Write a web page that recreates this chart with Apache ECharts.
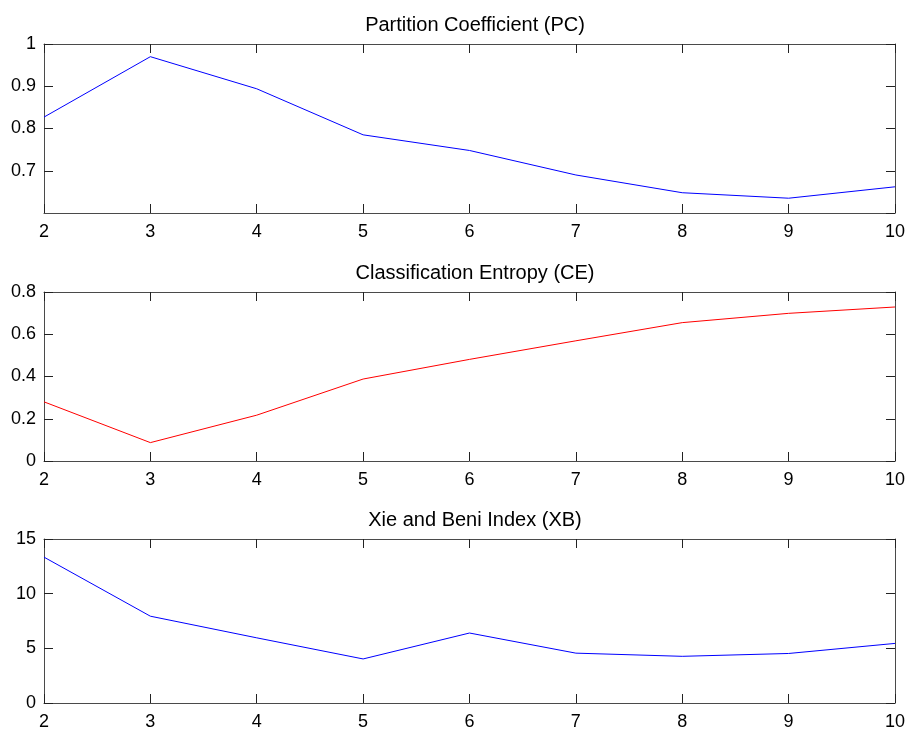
<!DOCTYPE html>
<html>
<head>
<meta charset="utf-8">
<script src="https://cdn.jsdelivr.net/npm/echarts@6/dist/echarts.min.js"></script>
<style>
  html, body { margin: 0; padding: 0; background: #fff; }
  #chart { width: 908px; height: 731px; }
</style>
</head>
<body>
<div id="chart"></div>
<script>
// Number of clusters evaluated
const clusterCounts = [2, 3, 4, 5, 6, 7, 8, 9, 10];

// Validity indices per cluster count
const pcValues = [0.827, 0.970, 0.894, 0.785, 0.748, 0.690, 0.648, 0.635, 0.662];
const ceValues = [0.280, 0.087, 0.217, 0.388, 0.481, 0.569, 0.655, 0.699, 0.729];
const xbValues = [13.34, 7.94, 5.96, 4.03, 6.40, 4.56, 4.27, 4.53, 5.45];

const panelTitles = ['Partition Coefficient (PC)', 'Classification Entropy (CE)', 'Xie and Beni Index (XB)'];

// y-axis ranges and tick steps for each panel
const yRanges = [
  { min: 0.6, max: 1, interval: 0.1, hideMin: true },
  { min: 0, max: 0.8, interval: 0.2, hideMin: false },
  { min: 0, max: 15, interval: 5, hideMin: false }
];
const lineColors = ['#0000ff', '#ff0000', '#0000ff'];

const fontFamily = 'Arial, "Liberation Sans", Helvetica, sans-serif';
const frameColor = '#4a4a4a';

const grids = [
  { left: 44, right: 12, top: 44, height: 169 },
  { left: 44, right: 12, top: 292, height: 169 },
  { left: 44, right: 12, top: 539, height: 168 }
];
const titleTops = [10, 258, 505];

const xAxes = [], yAxes = [], series = [], titles = [];

const fmt = v => String(+v.toFixed(2));

grids.forEach((g, i) => {
  const tick = { show: true, inside: true, length: 9, lineStyle: { color: '#222', width: 1 } };
  const line = { show: true, onZero: false, lineStyle: { color: frameColor, width: 1 } };
  xAxes.push({
    type: 'value', gridIndex: i, position: 'bottom', min: 2, max: 10, interval: 1,
    axisLine: line, axisTick: tick, splitLine: { show: false },
    axisLabel: { color: '#000', fontSize: 18, fontFamily, margin: 10, formatter: fmt }
  });
  xAxes.push({
    type: 'value', gridIndex: i, position: 'top', min: 2, max: 10, interval: 1,
    axisLine: line, axisTick: tick, splitLine: { show: false }, axisLabel: { show: false }
  });
  const r = yRanges[i];
  yAxes.push({
    type: 'value', gridIndex: i, position: 'left', min: r.min, max: r.max, interval: r.interval,
    axisLine: line, axisTick: tick, splitLine: { show: false },
    axisLabel: { color: '#000', fontSize: 18, fontFamily, margin: 8, showMinLabel: !r.hideMin, formatter: fmt }
  });
  yAxes.push({
    type: 'value', gridIndex: i, position: 'right', min: r.min, max: r.max, interval: r.interval,
    axisLine: line, axisTick: tick, splitLine: { show: false }, axisLabel: { show: false }
  });
  titles.push({
    text: panelTitles[i], left: 470, top: titleTops[i], textAlign: 'center',
    textStyle: { color: '#000', fontSize: 20, fontWeight: 'normal', fontFamily }
  });
});

const seriesValues = [pcValues, ceValues, xbValues];
seriesValues.forEach((vals, i) => {
  series.push({
    type: 'line', xAxisIndex: i * 2, yAxisIndex: i * 2,
    data: clusterCounts.map((k, j) => [k, vals[j]]),
    showSymbol: false, symbol: 'none', animation: false,
    lineStyle: { color: lineColors[i], width: 1 }
  });
});

const chart = echarts.init(document.getElementById('chart'), null, { renderer: 'canvas' });
chart.setOption({
  backgroundColor: '#fff',
  animation: false,
  title: titles,
  grid: grids,
  xAxis: xAxes,
  yAxis: yAxes,
  series
});
</script>
</body>
</html>
